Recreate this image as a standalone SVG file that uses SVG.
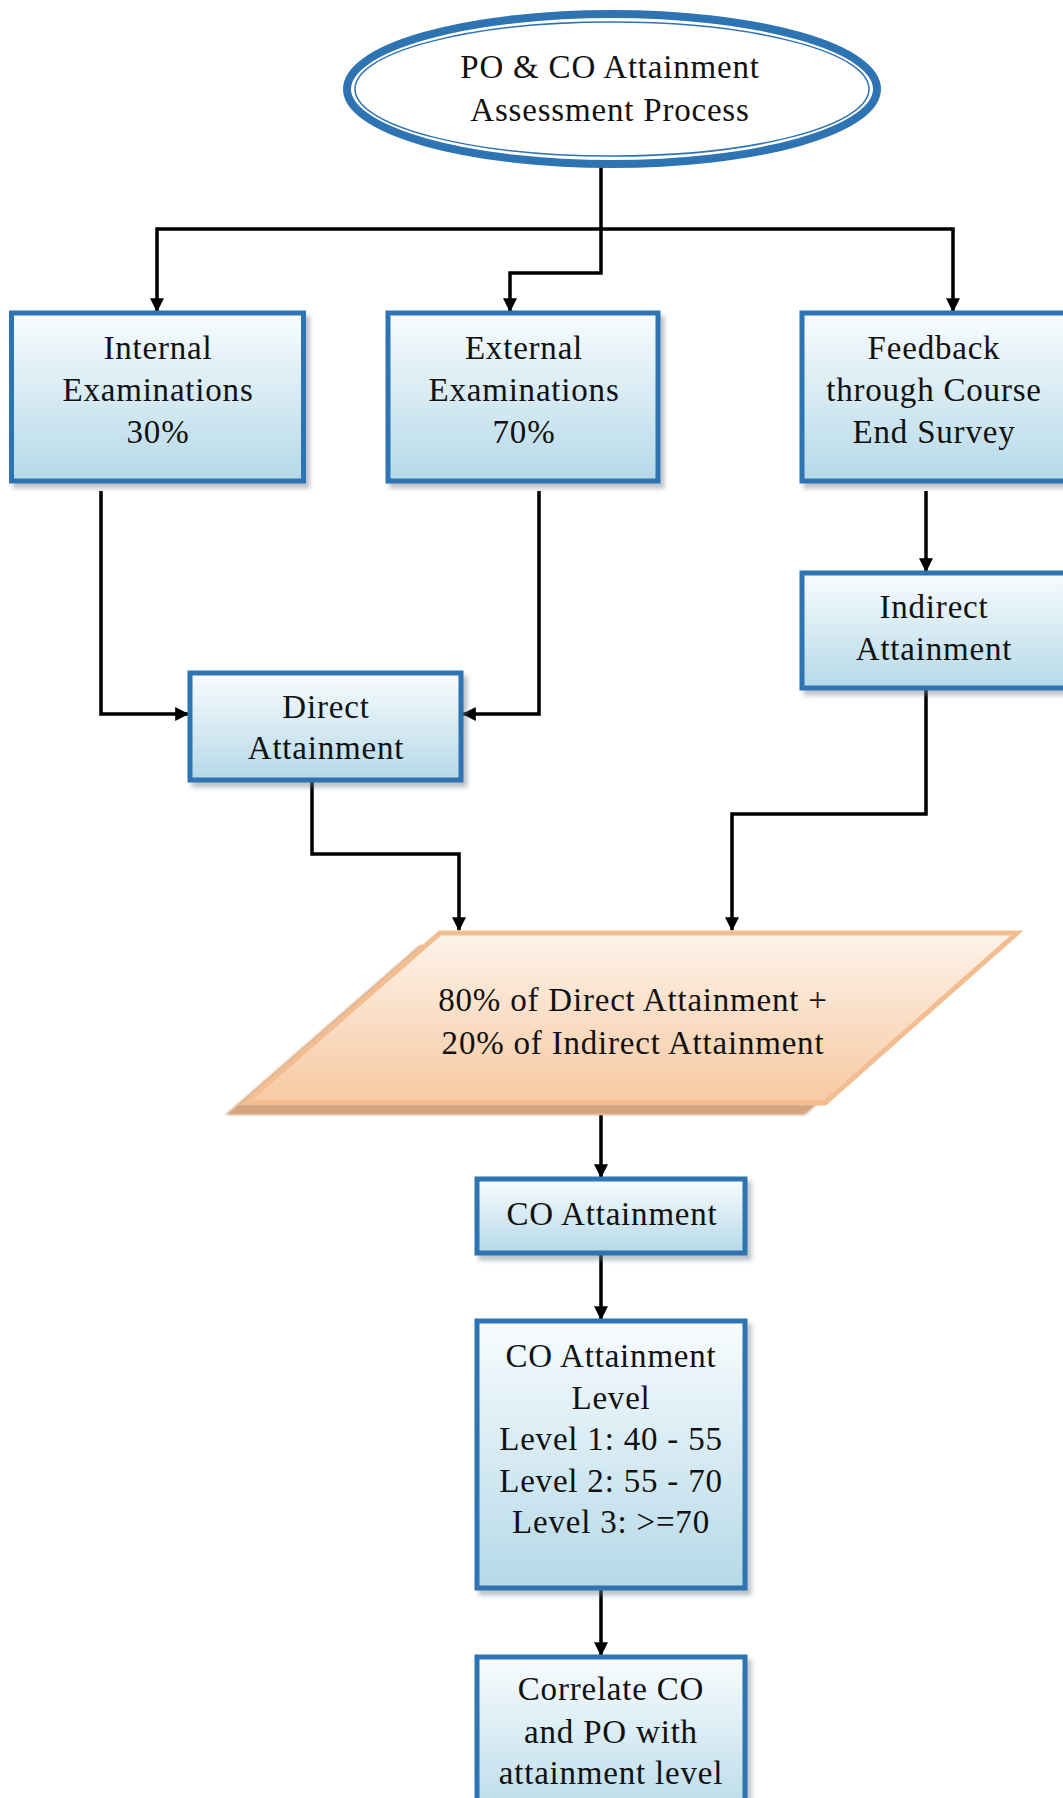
<svg xmlns="http://www.w3.org/2000/svg" width="1063" height="1798" viewBox="0 0 1063 1798">
  <defs>
    <linearGradient id="boxFill" x1="0" y1="0" x2="0" y2="1">
      <stop offset="0" stop-color="#f8fcfe"/>
      <stop offset="1" stop-color="#b5d9e8"/>
    </linearGradient>
    <linearGradient id="paraFill" x1="0" y1="0" x2="0" y2="1">
      <stop offset="0" stop-color="#fdf3ea"/>
      <stop offset="1" stop-color="#f7c9a2"/>
    </linearGradient>
    <filter id="shadow" x="-10%" y="-10%" width="130%" height="130%">
      <feDropShadow dx="4" dy="5" stdDeviation="2" flood-color="#6b7b85" flood-opacity="0.45"/>
    </filter>
    <filter id="soft" x="-5%" y="-5%" width="110%" height="110%">
      <feGaussianBlur stdDeviation="1.2"/>
    </filter>
    <marker id="arrow" viewBox="0 0 12 12" refX="11" refY="6" markerWidth="14" markerHeight="14" markerUnits="userSpaceOnUse" orient="auto">
      <path d="M0,0 L12,6 L0,12 z" fill="#000"/>
    </marker>
    <style>
      .box { fill: url(#boxFill); stroke: #2e73b2; stroke-width: 5; filter: url(#shadow); }
      .lbl { font-family: "Liberation Serif", "Times New Roman", serif; font-size: 33px; letter-spacing: 0.8px; fill: #111111; text-anchor: middle; }
      .link { fill: none; stroke: #000; stroke-width: 3.5; marker-end: url(#arrow); }
    </style>
  </defs>

  <rect width="1063" height="1798" fill="#ffffff"/>

  <!-- connectors -->
  <g id="connectors">
    <path class="link" d="M601,164 V273 H510 V311"/>
    <path class="link" d="M601,229 H157 V311"/>
    <path class="link" d="M601,229 H953 V311"/>
    <path class="link" d="M101,491 V714 H188"/>
    <path class="link" d="M539,491 V714 H463"/>
    <path class="link" d="M926,491 V571"/>
    <path class="link" d="M312,780 V854 H459 V930"/>
    <path class="link" d="M926,688 V814 H732 V930"/>
    <path class="link" d="M601,1115 V1177"/>
    <path class="link" d="M601,1253 V1319"/>
    <path class="link" d="M601,1588 V1655"/>
  </g>

  <!-- start: double-outlined ellipse -->
  <g id="start">
    <ellipse cx="612" cy="89" rx="265" ry="75" fill="#ffffff" stroke="#2e73b2" stroke-width="8"/>
    <ellipse cx="612" cy="89" rx="257" ry="67" fill="none" stroke="#2e73b2" stroke-width="1.5"/>
    <text class="lbl" x="610" y="78">PO &amp; CO Attainment</text>
    <text class="lbl" x="610" y="121">Assessment Process</text>
  </g>

  <g id="internal">
    <rect class="box" x="11.5" y="313" width="292" height="168"/>
    <text class="lbl" x="158" y="359">Internal</text>
    <text class="lbl" x="158" y="401">Examinations</text>
    <text class="lbl" x="158" y="443">30%</text>
  </g>

  <g id="external">
    <rect class="box" x="388" y="313" width="270" height="168"/>
    <text class="lbl" x="524" y="359">External</text>
    <text class="lbl" x="524" y="401">Examinations</text>
    <text class="lbl" x="524" y="443">70%</text>
  </g>

  <g id="feedback">
    <rect class="box" x="802" y="313" width="275" height="168"/>
    <text class="lbl" x="934" y="359">Feedback</text>
    <text class="lbl" x="934" y="401">through Course</text>
    <text class="lbl" x="934" y="443">End Survey</text>
  </g>

  <g id="indirect">
    <rect class="box" x="802" y="573" width="275" height="115"/>
    <text class="lbl" x="934" y="618">Indirect</text>
    <text class="lbl" x="934" y="660">Attainment</text>
  </g>

  <g id="direct">
    <rect class="box" x="190" y="673" width="271" height="107"/>
    <text class="lbl" x="326" y="718">Direct</text>
    <text class="lbl" x="326" y="759">Attainment</text>
  </g>

  <!-- weighted combination, with its offset shadow -->
  <g id="combine">
    <polygon points="420,945 997,945 805,1115 225,1115" fill="#d3a47f" filter="url(#soft)"/>
    <polygon points="440,933 1017,933 825,1103 245,1103" fill="url(#paraFill)" stroke="#f3bd92" stroke-width="5" stroke-linejoin="miter"/>
    <text class="lbl" x="633" y="1011">80% of Direct Attainment +</text>
    <text class="lbl" x="633" y="1054">20% of Indirect Attainment</text>
  </g>

  <g id="co-attainment">
    <rect class="box" x="477" y="1179" width="268" height="74"/>
    <text class="lbl" x="612" y="1225">CO Attainment</text>
  </g>

  <g id="co-level">
    <rect class="box" x="477" y="1321" width="268" height="267"/>
    <text class="lbl" x="611" y="1367">CO Attainment</text>
    <text class="lbl" x="611" y="1409">Level</text>
    <text class="lbl" x="611" y="1450">Level 1: 40 - 55</text>
    <text class="lbl" x="611" y="1492">Level 2: 55 - 70</text>
    <text class="lbl" x="611" y="1533">Level 3: &gt;=70</text>
  </g>

  <g id="correlate">
    <rect class="box" x="477" y="1657" width="268" height="170"/>
    <text class="lbl" x="611" y="1700">Correlate CO</text>
    <text class="lbl" x="611" y="1743">and PO with</text>
    <text class="lbl" x="611" y="1784">attainment level</text>
  </g>
</svg>
